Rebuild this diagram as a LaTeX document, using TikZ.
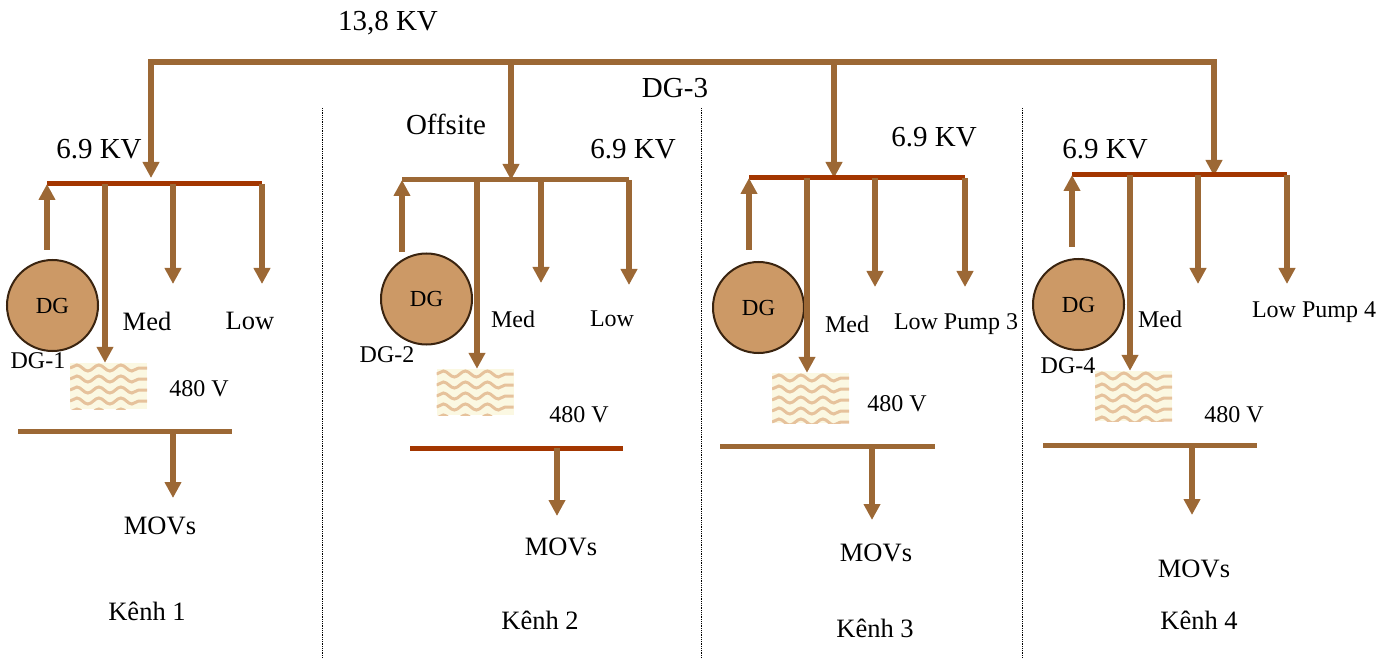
\documentclass[tikz,border=0pt]{standalone}
\usepackage{fontspec}
\setmainfont{Liberation Serif}
\usetikzlibrary{arrows.meta,decorations.pathmorphing}
\definecolor{cable}{HTML}{9C6835}
\definecolor{redbus}{HTML}{A33600}
\definecolor{gen}{HTML}{CC9966}
\definecolor{genline}{HTML}{3A2410}
\definecolor{cream}{HTML}{FBF8E2}
\definecolor{wave}{HTML}{E6C29C}
\begin{document}
\begin{tikzpicture}[x=1pt,y=-1pt,
    every node/.style={inner sep=0pt},
    big/.style={font=\fontsize{29}{32}\selectfont},
    mid/.style={font=\fontsize{26.5}{30}\selectfont},
    small/.style={font=\fontsize{24}{28}\selectfont},
    gen/.style={circle,draw=genline,fill=gen,line width=2pt,minimum size=91pt,font=\fontsize{23}{28}\selectfont},
    xfmr/.style={minimum width=77pt,fill=cream,path picture={
        \foreach \r in {0,11,...,55}
        \draw[wave,line width=3pt,decorate,decoration={snake,segment length=22pt,amplitude=3pt}]
        ([yshift=-5-\r]path picture bounding box.north west) -- ([yshift=-5-\r]path picture bounding box.north east);}},
    feed/.style={cable,line width=5.5pt,-{Triangle[length=16pt,width=16pt]}},
    bus/.style={line width=5pt},
    sep/.style={densely dotted,line width=.8pt}]

    \useasboundingbox (0,0) rectangle (1395,660);

    % the top bus

    \coordinate (top1) at (151,62);
    \coordinate (top2) at (511,62);
    \coordinate (top3) at (834,62);
    \coordinate (top4) at (1214,62);
    \draw[cable,line width=5.5pt,line cap=rect] (top1) -- (top4);
    \node[big] (t138) at (388,23) {13,8 KV};
    \node[big] (tdg3) at (675,88) {DG-3};
    \node[big] (toff) at (446,124) {Offsite};

    % the separators

    \coordinate (s1a) at (322,108);
    \coordinate (s1b) at (322,658);
    \coordinate (s2a) at (701,108);
    \coordinate (s2b) at (701,658);
    \coordinate (s3a) at (1022,108);
    \coordinate (s3b) at (1022,658);
    \draw[sep] (s1a) -- (s1b);
    \draw[sep] (s2a) -- (s2b);
    \draw[sep] (s3a) -- (s3b);

    % channel 1

    \coordinate (a1l) at (47,184);
    \coordinate (a1r) at (262,184);
    \coordinate (a1in) at (151,178);
    \coordinate (a1up) at (47,250);
    \coordinate (a1t) at (105,184);
    \coordinate (a1m) at (173,184);
    \coordinate (a1me) at (173,284);
    \coordinate (a1le) at (262,284);
    \coordinate (b1l) at (18,431);
    \coordinate (b1r) at (232,431);
    \coordinate (b1o) at (173,431);
    \coordinate (b1e) at (173,498);
    \node[gen] (dg1) at (52.5,305.5) {DG};
    \node[xfmr,minimum height=46pt] (x1) at (108.5,386) {};
    \draw[feed] (top1) to (a1in);
    \draw[bus,redbus] (a1l) -- (a1r);
    \draw[feed] (a1up) to (a1l);
    \draw[feed] (a1t) to (a1t |- x1.north);
    \draw[feed] (a1m) to (a1me);
    \draw[feed] (a1r) to (a1le);
    \draw[bus,cable] (b1l) -- (b1r);
    \draw[feed] (b1o) to (b1e);
    \node[big] (v1) at (99,149) {6.9 KV};
    \node[mid] (m1) at (147,321) {Med};
    \node[mid] (l1) at (250,321) {Low};
    \node[small] (d1) at (38,361) {DG-1};
    \node[small] (k1) at (199,389) {480 V};
    \node[mid] (o1) at (160,526) {MOVs};
    \node[mid] (c1) at (147,611) {Kênh 1};

    % channel 2

    \coordinate (a2l) at (402,180);
    \coordinate (a2r) at (629,180);
    \coordinate (a2in) at (511,180);
    \coordinate (a2up) at (402,252);
    \coordinate (a2t) at (477,180);
    \coordinate (a2m) at (541,180);
    \coordinate (a2me) at (541,283);
    \coordinate (a2le) at (629,285);
    \coordinate (b2l) at (410,448);
    \coordinate (b2r) at (623,448);
    \coordinate (b2o) at (557,448);
    \coordinate (b2e) at (557,516);
    \node[gen] (dg2) at (426.5,299) {DG};
    \node[xfmr,minimum height=46pt] (x2) at (475,392) {};
    \draw[feed] (top2) to (a2in);
    \draw[bus,cable] (a2l) -- (a2r);
    \draw[feed] (a2up) to (a2l);
    \draw[feed] (a2t) to (a2t |- x2.north);
    \draw[feed] (a2m) to (a2me);
    \draw[feed] (a2r) to (a2le);
    \draw[bus,redbus] (b2l) -- (b2r);
    \draw[feed] (b2o) to (b2e);
    \node[big] (v2) at (633,149) {6.9 KV};
    \node[small] (m2) at (513,319) {Med};
    \node[small] (l2) at (612,319) {Low};
    \node[small] (d2) at (387,355) {DG-2};
    \node[small] (k2) at (579,415) {480 V};
    \node[mid] (o2) at (561,547) {MOVs};
    \node[mid] (c2) at (540,620) {Kênh 2};

    % channel 3

    \coordinate (a3l) at (749,178);
    \coordinate (a3r) at (965,178);
    \coordinate (a3in) at (834,178);
    \coordinate (a3up) at (749,250);
    \coordinate (a3t) at (807,178);
    \coordinate (a3m) at (875,178);
    \coordinate (a3me) at (875,287);
    \coordinate (a3le) at (965,287);
    \coordinate (b3l) at (720,446);
    \coordinate (b3r) at (935,446);
    \coordinate (b3o) at (872,446);
    \coordinate (b3e) at (872,520);
    \node[gen] (dg3) at (758.5,307.5) {DG};
    \node[xfmr,minimum height=50pt] (x3) at (810.5,398) {};
    \draw[feed] (top3) to (a3in);
    \draw[bus,redbus] (a3l) -- (a3r);
    \draw[feed] (a3up) to (a3l);
    \draw[feed] (a3t) to (a3t |- x3.north);
    \draw[feed] (a3m) to (a3me);
    \draw[feed] (a3r) to (a3le);
    \draw[bus,cable] (b3l) -- (b3r);
    \draw[feed] (b3o) to (b3e);
    \node[big] (v3) at (934,137) {6.9 KV};
    \node[small] (m3) at (847,324) {Med};
    \node[small] (l3) at (956,324) {Low Pump 3};
    \node[small] (k3) at (897,404) {480 V};
    \node[mid] (o3) at (876,553) {MOVs};
    \node[mid] (c3) at (875,628) {Kênh 3};

    % channel 4

    \coordinate (a4l) at (1072,175);
    \coordinate (a4r) at (1287,175);
    \coordinate (a4in) at (1214,176);
    \coordinate (a4up) at (1072,247);
    \coordinate (a4t) at (1130,175);
    \coordinate (a4m) at (1198,175);
    \coordinate (a4me) at (1198,284);
    \coordinate (a4le) at (1287,284);
    \coordinate (b4l) at (1043,445);
    \coordinate (b4r) at (1257,445);
    \coordinate (b4o) at (1192,445);
    \coordinate (b4e) at (1192,515);
    \node[gen] (dg4) at (1078.5,304.5) {DG};
    \node[xfmr,minimum height=50pt] (x4) at (1133.5,396) {};
    \draw[feed] (top4) to (a4in);
    \draw[bus,redbus] (a4l) -- (a4r);
    \draw[feed] (a4up) to (a4l);
    \draw[feed] (a4t) to (a4t |- x4.north);
    \draw[feed] (a4m) to (a4me);
    \draw[feed] (a4r) to (a4le);
    \draw[bus,cable] (b4l) -- (b4r);
    \draw[feed] (b4o) to (b4e);
    \node[big] (v4) at (1105,149) {6.9 KV};
    \node[small] (m4) at (1160,319) {Med};
    \node[small] (l4) at (1314,312) {Low Pump 4};
    \node[small] (d4) at (1068,366) {DG-4};
    \node[small] (k4) at (1234,415) {480 V};
    \node[mid] (o4) at (1194,569) {MOVs};
    \node[mid] (c4) at (1199,620) {Kênh 4};
  \end{tikzpicture}
\end{document}
